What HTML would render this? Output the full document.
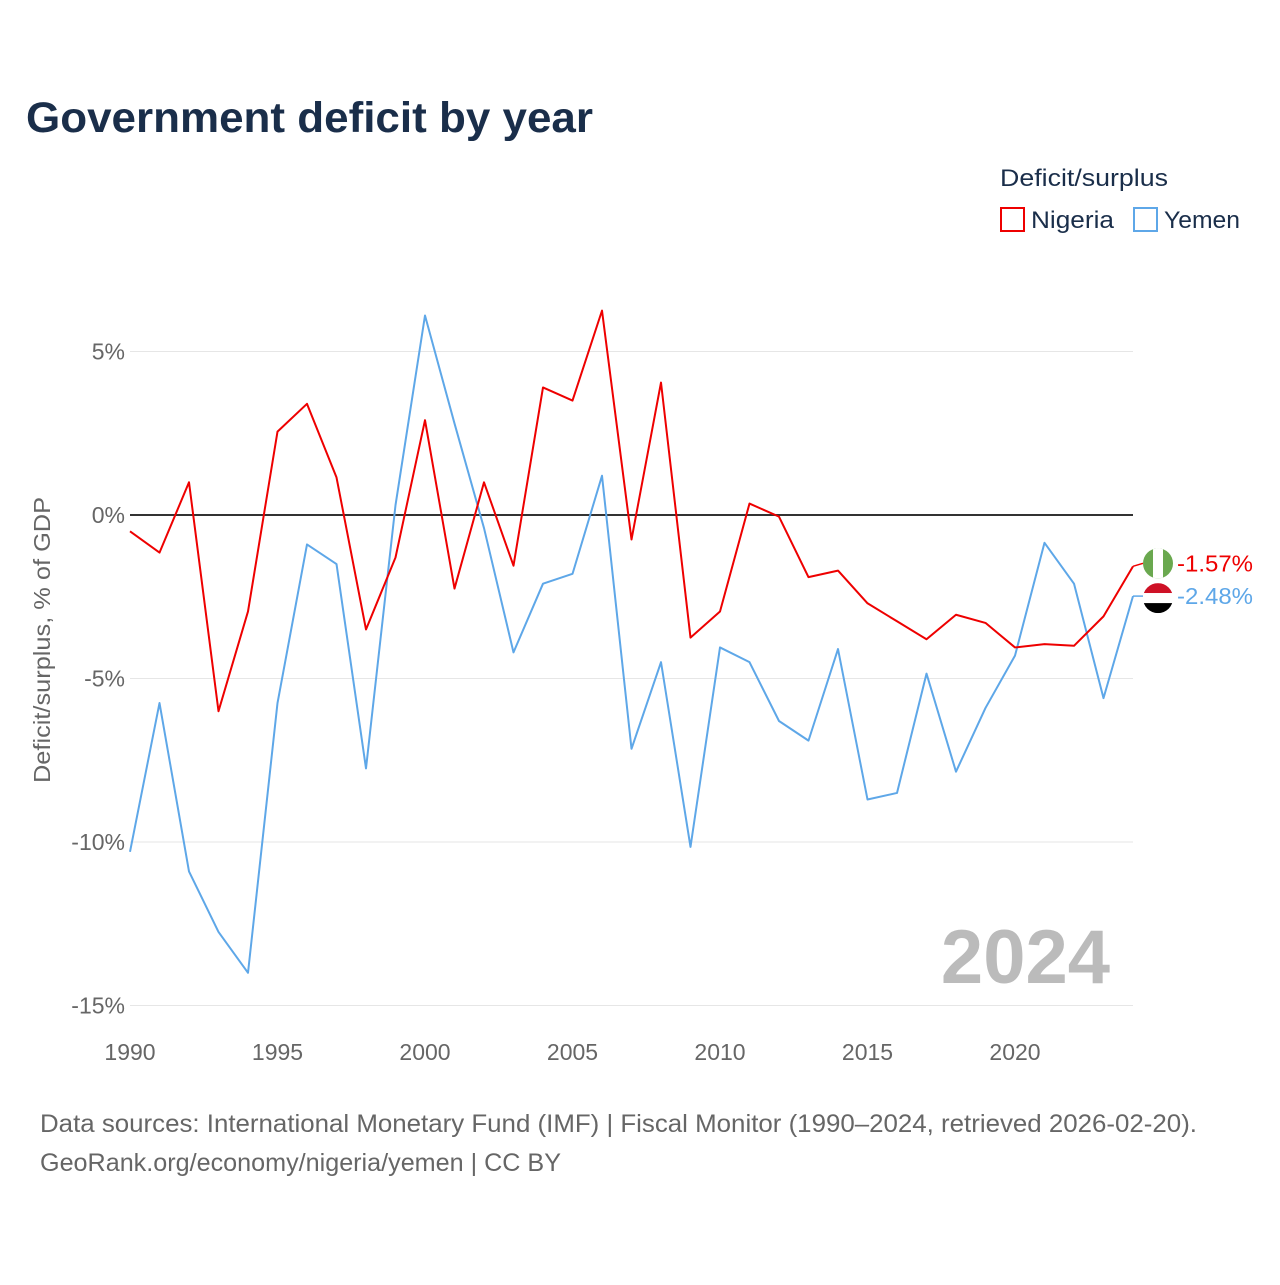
<!DOCTYPE html>
<html><head><meta charset="utf-8">
<style>
body{margin:0;background:#fff;font-family:"Liberation Sans",sans-serif;}
svg text{font-family:"Liberation Sans",sans-serif;}
</style></head>
<body>
<svg width="1280" height="1280" viewBox="0 0 1280 1280">
<text x="26" y="132" font-size="43" font-weight="bold" fill="#1a2e4a" textLength="567" lengthAdjust="spacingAndGlyphs">Government deficit by year</text>
<text x="1000" y="186" font-size="24" fill="#1a2e4a" textLength="168" lengthAdjust="spacingAndGlyphs">Deficit/surplus</text>
<g><rect x="1001" y="208" width="23" height="23" fill="none" stroke="#ee0000" stroke-width="2"/><text x="1031" y="228" font-size="24" fill="#1a2e4a" textLength="83" lengthAdjust="spacingAndGlyphs">Nigeria</text></g>
<g><rect x="1134" y="208" width="23" height="23" fill="none" stroke="#5ea7e8" stroke-width="2"/><text x="1164" y="228" font-size="24" fill="#1a2e4a" textLength="76" lengthAdjust="spacingAndGlyphs">Yemen</text></g>
<g id="grid"></g>
<text transform="translate(50,640) rotate(-90)" text-anchor="middle" font-size="23" fill="#666" textLength="286" lengthAdjust="spacingAndGlyphs">Deficit/surplus, % of GDP</text>
<text x="1110" y="983" text-anchor="end" font-size="76" font-weight="bold" fill="#bbb">2024</text>
<g id="series"></g>
<text x="40" y="1132" font-size="25" fill="#666" textLength="1157" lengthAdjust="spacingAndGlyphs">Data sources: International Monetary Fund (IMF) | Fiscal Monitor (1990–2024, retrieved 2026-02-20).</text>
<text x="40" y="1171" font-size="25" fill="#666" textLength="521" lengthAdjust="spacingAndGlyphs">GeoRank.org/economy/nigeria/yemen | CC BY</text>
</svg>
<script>
const years=[];for(let y=1990;y<=2024;y++)years.push(y);
const nigeria=[-0.5,-1.15,1.0,-6.0,-2.95,2.55,3.4,1.15,-3.5,-1.3,2.9,-2.25,1.0,-1.55,3.9,3.5,6.25,-0.75,4.05,-3.75,-2.95,0.35,-0.05,-1.9,-1.7,-2.7,-3.25,-3.8,-3.05,-3.3,-4.05,-3.95,-4.0,-3.1,-1.57];
const yemen=[-10.3,-5.75,-10.9,-12.75,-14.0,-5.75,-0.9,-1.5,-7.75,0.3,6.1,2.8,-0.4,-4.2,-2.1,-1.8,1.2,-7.15,-4.5,-10.15,-4.05,-4.5,-6.3,-6.9,-4.1,-8.7,-8.5,-4.85,-7.85,-5.9,-4.3,-0.85,-2.1,-5.6,-2.48];
const yTicks=[5,0,-5,-10,-15];
const xTicks=[1990,1995,2000,2005,2010,2015,2020];
const NS="http://www.w3.org/2000/svg";
const X=y=>130+(y-1990)*(1003/34);
const Y=v=>515-v*32.7;
const grid=document.getElementById('grid'),ser=document.getElementById('series');
function mk(tag,attrs,parent){const e=document.createElementNS(NS,tag);for(const k in attrs)e.setAttribute(k,attrs[k]);parent.appendChild(e);return e;}
yTicks.forEach(t=>{
  const l=mk('line',{x1:130,x2:1133,y1:Y(t),y2:Y(t),stroke:t===0?'#333':'#e6e6e6','stroke-width':t===0?2:1},grid);
  
  
  const tx=mk('text',{x:125,y:Y(t)+8,'text-anchor':'end','font-size':23,fill:'#666'},grid);
  tx.textContent=t+'%';
  
  
});
xTicks.forEach(t=>{
  const tx=mk('text',{x:X(t),y:1060,'text-anchor':'middle','font-size':23,fill:'#666'},grid);
  tx.textContent=t;
  
  
});
function line(data,color,name){
  const p=mk('polyline',{points:data.map((v,i)=>X(years[i])+','+Y(v)).join(' '),fill:'none',stroke:color,'stroke-width':2,'stroke-linejoin':'round'},ser);
  
  
}
line(yemen,'#5ea7e8','yemen-line');
line(nigeria,'#ee0000','nigeria-line');
const nv=nigeria[nigeria.length-1],yv=yemen[yemen.length-1];
const ny=Y(nv)-3,yy=Y(yv)+2;
mk('line',{x1:1133,x2:1143,y1:Y(nv),y2:ny,stroke:'#ee0000','stroke-width':1.5},ser);
mk('line',{x1:1133,x2:1143,y1:Y(yv),y2:Y(yv),stroke:'#5ea7e8','stroke-width':1.5},ser);
const fn=mk('g',{},ser);


mk('clipPath',{id:'cn'},fn).appendChild(document.createElementNS(NS,'circle'));
const cn=fn.querySelector('#cn circle');cn.setAttribute('cx',1158);cn.setAttribute('cy',ny);cn.setAttribute('r',15);
mk('rect',{x:1143,y:ny-15,width:30,height:30,fill:'#6aa84f','clip-path':'url(#cn)'},fn);
mk('rect',{x:1153,y:ny-15,width:10,height:30,fill:'#fff','clip-path':'url(#cn)'},fn);
const fy=mk('g',{},ser);


mk('clipPath',{id:'cy'},fy).appendChild(document.createElementNS(NS,'circle'));
const cy=fy.querySelector('#cy circle');cy.setAttribute('cx',1158);cy.setAttribute('cy',yy);cy.setAttribute('r',15);
mk('rect',{x:1143,y:yy-15,width:30,height:10,fill:'#ce1126','clip-path':'url(#cy)'},fy);
mk('rect',{x:1143,y:yy-5,width:30,height:10,fill:'#fff','clip-path':'url(#cy)'},fy);
mk('rect',{x:1143,y:yy+5,width:30,height:10,fill:'#000','clip-path':'url(#cy)'},fy);
const t1=mk('text',{x:1177,y:ny+8,'font-size':23,fill:'#ee0000',textLength:76,lengthAdjust:'spacingAndGlyphs'},ser);
t1.textContent=nv.toFixed(2)+'%';


const t2=mk('text',{x:1177,y:Y(yv)+8,'font-size':23,fill:'#5ea7e8',textLength:76,lengthAdjust:'spacingAndGlyphs'},ser);
t2.textContent=yv.toFixed(2)+'%';


</script>
</body></html>
